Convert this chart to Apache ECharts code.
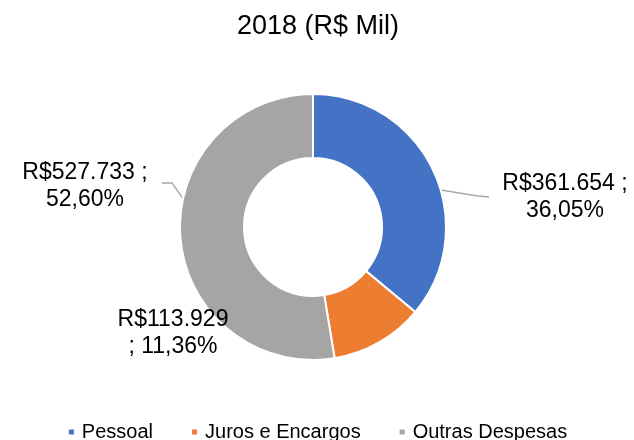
<!DOCTYPE html>
<html>
<head>
<meta charset="utf-8">
<script src="https://cdn.jsdelivr.net/npm/echarts@6/dist/echarts.min.js"></script>
<style>
  html, body { margin: 0; padding: 0; background: #fff; }
  #chart { width: 634px; height: 440px; }
</style>
</head>
<body>
<div id="chart"></div>
<script>
// Expense breakdown, 2018 (values in thousands of R$)
const chartTitle = '2018 (R$ Mil)';
const categories = ['Pessoal', 'Juros e Encargos', 'Outras Despesas'];
const values = [361654, 113929, 527733];
const colors = ['#4472C4', '#ED7D31', '#A5A5A5'];

const FONT = '"Liberation Sans", Arial, sans-serif';
const CX = 313, CY = 227, R_IN = 69, R_OUT = 133;

const total = values.reduce((a, b) => a + b, 0);
const money = v => 'R$' + String(v).replace(/\B(?=(\d{3})+(?!\d))/g, '.');
const pct = v => (v / total * 100).toFixed(2).replace('.', ',') + '%';

// Where each callout sits, how its leader line bends, and where it touches the ring
const callouts = [
  { at: [565, 197], bend: [478, 196], end: [489, 197], ringR: 101, turn: 0, breakBeforeSemi: false },
  { at: [173, 333], bend: null,       end: [232, 320], ringR: 101, turn: 0, breakBeforeSemi: true },
  { at: [85, 186],  bend: [172, 183], end: [162, 183], ringR: R_OUT, turn: 17, breakBeforeSemi: false }
];

// Mid angle of each slice, in degrees clockwise from 12 o'clock
const midAngles = [];
let acc = 0;
values.forEach(v => {
  midAngles.push((acc + v / 2) / total * 360);
  acc += v;
});

function ringPoint(deg, r) {
  const a = deg * Math.PI / 180;
  return [CX + r * Math.sin(a), CY - r * Math.cos(a)];
}

const chart = echarts.init(document.getElementById('chart'), null, { renderer: 'canvas' });

chart.setOption({
  animation: false,
  backgroundColor: '#ffffff',
  color: colors,
  title: {
    text: chartTitle,
    left: 313,
    textAlign: 'center',
    top: 8,
    textStyle: { fontFamily: FONT, fontSize: 27, fontWeight: 'normal', color: '#000' }
  },
  legend: {
    data: categories,
    left: 'center',
    top: 417,
    icon: 'rect',
    itemWidth: 7,
    itemHeight: 7,
    itemGap: 37,
    textStyle: { fontFamily: FONT, fontSize: 20, color: '#000', padding: [0, 0, 0, 2] }
  },
  series: [{
    type: 'pie',
    center: [CX, CY],
    radius: [R_IN, R_OUT],
    startAngle: 90,
    clockwise: true,
    avoidLabelOverlap: false,
    emphasis: { disabled: true },
    itemStyle: { borderColor: '#ffffff', borderWidth: 2 },
    label: {
      show: true,
      position: 'outside',
      fontFamily: FONT,
      fontSize: 23,
      lineHeight: 27,
      color: '#000',
      formatter: p => {
        const c = callouts[p.dataIndex];
        return c.breakBeforeSemi
          ? money(p.value) + '\n; ' + pct(p.value)
          : money(p.value) + ' ;\n' + pct(p.value);
      }
    },
    labelLine: {
      show: true,
      smooth: false,
      lineStyle: { color: '#A6A6A6', width: 1.3 }
    },
    labelLayout: params => {
      const i = params.dataIndex;
      const c = callouts[i];
      const anchor = ringPoint(midAngles[i] + c.turn, c.ringR);
      const bend = c.bend || [(anchor[0] + c.end[0]) / 2, (anchor[1] + c.end[1]) / 2];
      return {
        x: c.at[0],
        y: c.at[1],
        align: 'center',
        verticalAlign: 'middle',
        labelLinePoints: [anchor, bend, c.end]
      };
    },
    data: categories.map((name, i) => ({ name, value: values[i] }))
  }]
});
</script>
</body>
</html>
